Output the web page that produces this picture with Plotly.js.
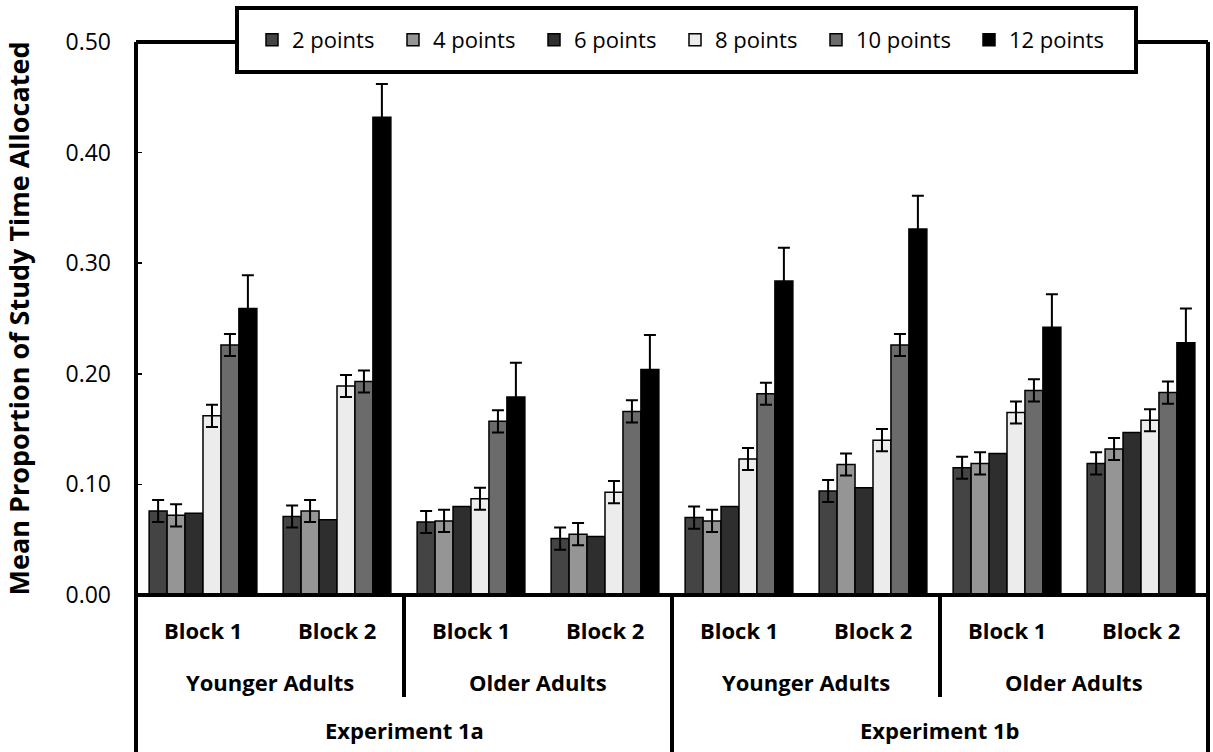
<!DOCTYPE html>
<html>
<head>
<meta charset="utf-8">
<script src="https://cdn.plot.ly/plotly-3.0.1.min.js"></script>
<style>html,body{margin:0;padding:0;background:#fff;}#chart{width:1213px;height:752px;}</style>
</head>
<body>
<div id="chart"></div>
<script>
// Conditions (8 bar groups)
const blockLabels = ['Block 1','Block 2','Block 1','Block 2','Block 1','Block 2','Block 1','Block 2'];
const groupLabels = ['Younger Adults','Older Adults','Younger Adults','Older Adults'];
const expLabels = ['Experiment 1a','Experiment 1b'];

// Series names
const seriesNames = ['2 points','4 points','6 points','8 points','10 points','12 points'];

// Mean proportion of study time allocated
const pts2  = [0.076, 0.071, 0.066, 0.051, 0.070, 0.094, 0.115, 0.119];
const pts4  = [0.072, 0.076, 0.067, 0.055, 0.067, 0.118, 0.119, 0.132];
const pts6  = [0.074, 0.068, 0.080, 0.053, 0.080, 0.097, 0.128, 0.147];
const pts8  = [0.162, 0.189, 0.087, 0.093, 0.123, 0.140, 0.165, 0.158];
const pts10 = [0.226, 0.193, 0.157, 0.166, 0.182, 0.226, 0.185, 0.183];
const pts12 = [0.259, 0.432, 0.179, 0.204, 0.284, 0.331, 0.242, 0.228];

// Standard errors (6 points has none shown)
const err2  = [0.010, 0.010, 0.010, 0.010, 0.010, 0.010, 0.010, 0.010];
const err4  = [0.010, 0.010, 0.010, 0.010, 0.010, 0.010, 0.010, 0.010];
const err6  = null;
const err8  = [0.010, 0.010, 0.010, 0.010, 0.010, 0.010, 0.010, 0.010];
const err10 = [0.010, 0.010, 0.010, 0.010, 0.010, 0.010, 0.010, 0.010];
const err12 = [0.030, 0.030, 0.031, 0.031, 0.030, 0.030, 0.030, 0.031];

const yTicks = [0, 0.1, 0.2, 0.3, 0.4, 0.5];

const colors = ['#444444','#959595','#2e2e2e','#ececec','#6b6b6b','#000000'];
const legendWidths = [96, 96, 96, 96, 108, 110];

const values = [pts2, pts4, pts6, pts8, pts10, pts12];
const errors = [err2, err4, err6, err8, err10, err12];
const xIdx = blockLabels.map((_, i) => i);

const FONT = 'Open Sans, Noto Sans, sans-serif';

const traces = seriesNames.map((name, s) => {
  const t = {
    type: 'bar',
    name: name,
    x: xIdx,
    y: values[s],
    marker: {color: colors[s], line: {color: '#000', width: 1.5}},
    legendwidth: legendWidths[s],
    hoverinfo: 'y+name'
  };
  if (errors[s]) {
    t.error_y = {type: 'data', array: errors[s], visible: true, color: '#000', thickness: 2, width: 6};
  }
  return t;
});

// px -> paper helpers (plot area: left 136, right 1208, top 42, bottom 595)
const PL = 136, PR = 1208, PT = 42, PB = 595;
const py = v => (PB - v) / (PB - PT);
const px = v => (v - PL) / (PR - PL);

const labelFont = {family: FONT, size: 22, weight: 700, color: '#000'};
const annotations = [];
blockLabels.forEach((b, i) => annotations.push({
  x: i, xref: 'x', y: py(630), yref: 'paper', text: b, showarrow: false,
  xanchor: 'center', yanchor: 'middle', font: labelFont
}));
groupLabels.forEach((g, k) => annotations.push({
  x: (xIdx[2 * k] + xIdx[2 * k + 1]) / 2, xref: 'x', y: py(682), yref: 'paper', text: g, showarrow: false,
  xanchor: 'center', yanchor: 'middle', font: labelFont
}));
expLabels.forEach((e, m) => annotations.push({
  x: (xIdx[4 * m] + xIdx[4 * m + 3]) / 2, xref: 'x', y: py(730), yref: 'paper', text: e, showarrow: false,
  xanchor: 'center', yanchor: 'middle', font: labelFont
}));

const LW = 4;
const bottom = py(760);
const shapes = [
  {type: 'line', xref: 'paper', yref: 'paper', x0: 0, x1: 0, y0: 1, y1: bottom, line: {color: '#000', width: LW}},
  {type: 'line', xref: 'paper', yref: 'paper', x0: 1, x1: 1, y0: 1, y1: bottom, line: {color: '#000', width: LW}},
  {type: 'line', xref: 'paper', yref: 'paper', x0: 0, x1: 1, y0: 1, y1: 1, line: {color: '#000', width: LW}},
  {type: 'line', xref: 'paper', yref: 'paper', x0: 0, x1: 1, y0: 0, y1: 0, line: {color: '#000', width: LW}},
  {type: 'line', xref: 'x', yref: 'paper', x0: 1.5, x1: 1.5, y0: 0, y1: py(697), line: {color: '#000', width: LW}},
  {type: 'line', xref: 'x', yref: 'paper', x0: 3.5, x1: 3.5, y0: 0, y1: bottom, line: {color: '#000', width: LW}},
  {type: 'line', xref: 'x', yref: 'paper', x0: 5.5, x1: 5.5, y0: 0, y1: py(697), line: {color: '#000', width: LW}},
  {type: 'rect', xref: 'paper', yref: 'paper', x0: px(237), x1: px(1136), y0: py(72), y1: py(8),
   fillcolor: '#fff', line: {color: '#000', width: LW}, layer: 'above'}
];

const layout = {
  width: 1213, height: 752,
  margin: {l: PL, r: 1213 - PR, t: PT, b: 752 - PB, pad: 0},
  paper_bgcolor: '#fff', plot_bgcolor: '#fff',
  font: {family: FONT, color: '#000'},
  barmode: 'group', bargap: 0.196, bargroupgap: 0,
  showlegend: true,
  legend: {
    orientation: 'h', x: px(252), xanchor: 'left', y: py(40), yanchor: 'middle',
    bgcolor: 'rgba(0,0,0,0)', borderwidth: 0, font: {family: FONT, size: 22, color: '#000'},
    traceorder: 'normal'
  },
  xaxis: {
    range: [-0.5, 7.5], showticklabels: false, ticks: '', showgrid: false, zeroline: false,
    showline: false, fixedrange: true
  },
  yaxis: {
    range: [0, 0.5], tickvals: yTicks, tickformat: '.2f', ticks: 'inside', ticklen: 6, tickwidth: 1.5,
    tickcolor: '#000', showgrid: false, zeroline: false, showline: false, automargin: false,
    tickfont: {family: FONT, size: 23, color: '#000'}, ticklabelstandoff: 24,
    title: {text: 'Mean Proportion of Study Time Allocated', standoff: 28,
            font: {family: FONT, size: 27, weight: 700, color: '#000'}}
  },
  annotations: annotations,
  shapes: shapes
};

Plotly.newPlot('chart', traces, layout, {displayModeBar: false, staticPlot: true});
</script>
</body>
</html>
